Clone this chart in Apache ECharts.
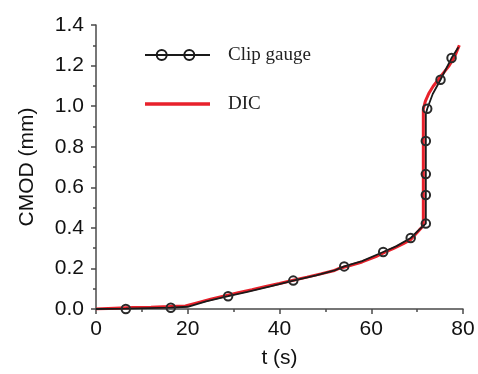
<!DOCTYPE html>
<html>
<head>
<meta charset="utf-8">
<script src="https://cdn.jsdelivr.net/npm/echarts@6/dist/echarts.min.js"></script>
<style>
  html, body { margin: 0; padding: 0; background: #fff; }
  #chart { width: 478px; height: 374px; }
</style>
</head>
<body>
<div id="chart"></div>
<script>
// Axis ticks
const xTicks = [0, 20, 40, 60, 80];
const yTicks = [0.0, 0.2, 0.4, 0.6, 0.8, 1.0, 1.2, 1.4];

// Clip gauge trace (time in s, CMOD in mm)
const gaugeT = [0, 6.5, 16.3, 20, 24, 28.8, 33, 38, 43, 48, 52, 54.1, 58, 62.6, 65.5, 68.6, 70.4, 71.9, 71.9, 72.2, 73.4, 75.1, 77.5, 79.0];
const gaugeV = [0, 0.002, 0.007, 0.011, 0.038, 0.063, 0.085, 0.112, 0.140, 0.166, 0.190, 0.210, 0.236, 0.281, 0.310, 0.350, 0.390, 0.421, 0.960, 0.987, 1.060, 1.130, 1.237, 1.290];

// Clip gauge readings shown as circles
const readT = [6.5, 16.3, 28.8, 43.0, 54.1, 62.6, 68.6, 71.9, 71.9, 71.9, 71.9, 72.2, 75.1, 77.5];
const readV = [0.0, 0.006, 0.063, 0.140, 0.210, 0.281, 0.350, 0.421, 0.562, 0.665, 0.828, 0.987, 1.130, 1.237];

// DIC measurement
const dicT = [0, 4, 8, 12, 16, 19.5, 22, 25, 28, 31, 34, 37, 40, 43, 46, 49, 52, 53, 55, 58, 61, 63, 65, 67, 68.5, 69.5, 70.5, 71.35, 71.35, 71.8, 72.6, 73.5, 74.6, 75.7, 77, 78.2, 79.2];
const dicV = [0, 0.004, 0.007, 0.009, 0.012, 0.015, 0.030, 0.048, 0.064, 0.080, 0.095, 0.111, 0.126, 0.142, 0.157, 0.173, 0.190, 0.200, 0.212, 0.232, 0.258, 0.280, 0.300, 0.322, 0.340, 0.365, 0.390, 0.410, 0.985, 1.025, 1.065, 1.098, 1.130, 1.163, 1.200, 1.245, 1.300];

const zip = (a, b) => a.map((v, i) => [v, b[i]]);

// Legend icons: line with two rings, and a plain red bar (extra zero-area points pad the width)
const gaugeIcon = 'path://M0,4.9 L65,4.9 L65,7.1 L0,7.1 Z ' +
  'M22.7,6 A6,6 0 1,1 10.7,6 A6,6 0 1,1 22.7,6 Z M20.7,6 A4,4 0 1,0 12.7,6 A4,4 0 1,0 20.7,6 Z ' +
  'M50.3,6 A6,6 0 1,1 38.3,6 A6,6 0 1,1 50.3,6 Z M48.3,6 A4,4 0 1,0 40.3,6 A4,4 0 1,0 48.3,6 Z ' +
  'M78,5 L78,7 Z';
const dicIcon = 'path://M0,0 L65,0 L65,3.5 L0,3.5 Z M78,0 L78,3.5 Z';

const axisColor = '#4a4a4a';
const textColor = '#111';
const sans = '"Liberation Sans", Arial, sans-serif';
const serif = '"Liberation Serif", "Times New Roman", serif';

const chart = echarts.init(document.getElementById('chart'), null, { renderer: 'canvas' });
chart.setOption({
  animation: false,
  backgroundColor: '#fff',
  grid: { left: 96, right: 15, top: 25, bottom: 63.4, containLabel: false },
  legend: [
    {
      data: ['Clip gauge'], left: 145, top: 45.5, padding: 0,
      icon: gaugeIcon, itemWidth: 78, itemHeight: 12, selectedMode: false,
      itemStyle: { color: '#1a1a1a', borderWidth: 0 },
      textStyle: { fontFamily: serif, fontSize: 19, color: '#222' }
    },
    {
      data: ['DIC'], left: 145, top: 94.5, padding: 0,
      icon: dicIcon, itemWidth: 78, itemHeight: 3.5, selectedMode: false,
      itemStyle: { color: '#e8212b', borderWidth: 0 },
      textStyle: { fontFamily: serif, fontSize: 19, color: '#222' }
    }
  ],
  xAxis: {
    type: 'value', min: 0, max: 80, interval: 20,
    name: 't (s)', nameLocation: 'middle', nameGap: 39,
    nameTextStyle: { fontFamily: sans, fontSize: 21, color: textColor },
    axisLine: { show: true, lineStyle: { color: axisColor, width: 1.5 } },
    axisTick: { show: true, length: 5, lineStyle: { color: axisColor, width: 1.5 } },
    minorTick: { show: true, splitNumber: 2, length: 3, lineStyle: { color: axisColor, width: 1.5 } },
    splitLine: { show: false },
    axisLabel: {
      margin: 10, fontFamily: sans, fontSize: 21, color: textColor,
      formatter: v => (xTicks.includes(v) ? String(v) : '')
    }
  },
  yAxis: {
    type: 'value', min: 0, max: 1.4, interval: 0.2,
    name: 'CMOD (mm)', nameLocation: 'middle', nameGap: 58,
    nameTextStyle: { fontFamily: sans, fontSize: 21, color: textColor },
    axisLine: { show: true, lineStyle: { color: axisColor, width: 1.5 } },
    axisTick: { show: true, length: 5, lineStyle: { color: axisColor, width: 1.5 } },
    minorTick: { show: true, splitNumber: 2, length: 3, lineStyle: { color: axisColor, width: 1.5 } },
    splitLine: { show: false },
    axisLabel: {
      margin: 12, fontFamily: sans, fontSize: 21, color: textColor,
      formatter: v => {
        const t = yTicks.find(y => Math.abs(y - v) < 1e-9);
        return t === undefined ? '' : t.toFixed(1);
      }
    }
  },
  series: [
    {
      name: 'DIC', type: 'line', data: zip(dicT, dicV),
      showSymbol: false, symbol: 'none', z: 2,
      lineStyle: { color: '#e8212b', width: 3 },
      itemStyle: { color: '#e8212b' }
    },
    {
      name: 'Clip gauge', type: 'line', data: zip(gaugeT, gaugeV),
      showSymbol: false, symbol: 'none', z: 3,
      lineStyle: { color: '#1a1a1a', width: 1.8 },
      itemStyle: { color: '#1a1a1a' }
    },
    {
      name: 'Clip gauge', type: 'scatter', data: zip(readT, readV),
      symbol: 'circle', symbolSize: 8.5, z: 4,
      itemStyle: { color: 'rgba(0,0,0,0)', borderColor: '#2a2a2a', borderWidth: 2, opacity: 1 }
    }
  ]
});
</script>
</body>
</html>
